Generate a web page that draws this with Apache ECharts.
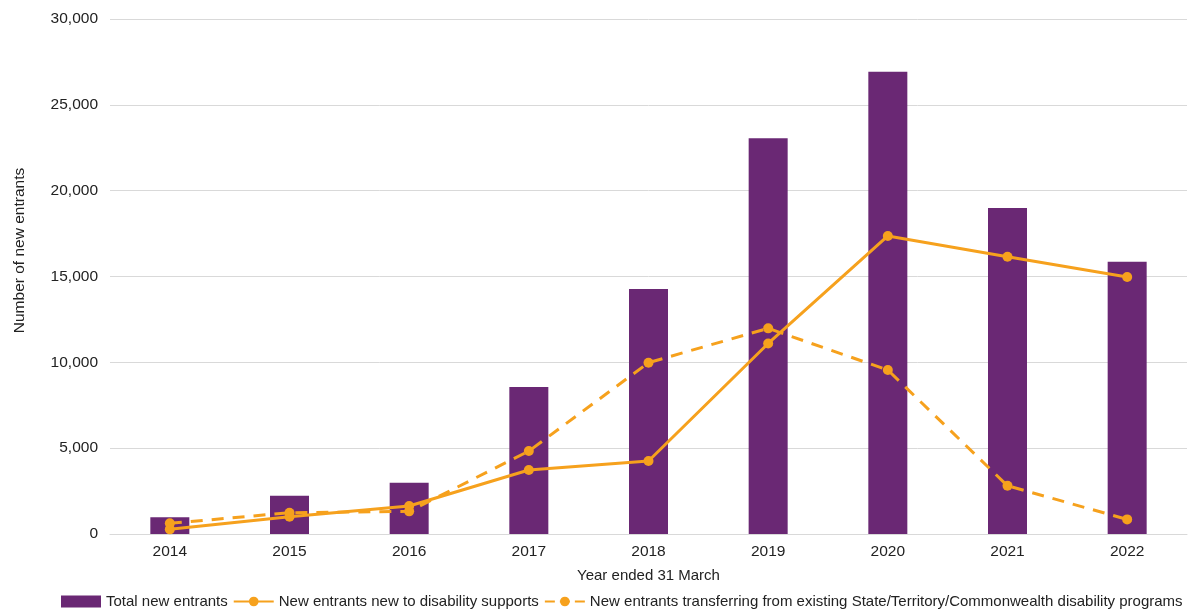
<!DOCTYPE html>
<html>
<head>
<meta charset="utf-8">
<script src="https://cdn.jsdelivr.net/npm/echarts@6/dist/echarts.min.js"></script>
<style>
  html, body { margin: 0; padding: 0; background: #fff; }
  #mainChart { width: 1189px; height: 615px; }
</style>
</head>
<body>
<div id="mainChart"></div>
<script>
// data
var years = ['2014', '2015', '2016', '2017', '2018', '2019', '2020', '2021', '2022'];
var totalNew = [970, 2230, 2990, 8560, 14270, 23060, 26930, 18990, 15860];
var newToSupports = [270, 1000, 1630, 3730, 4250, 11100, 17360, 16150, 14970];
var transferring = [620, 1240, 1320, 4830, 9980, 11980, 9550, 2810, 850];

var purple = '#6a2874';
var orange = '#f6a11d';
var font = 'Liberation Sans, Arial, sans-serif';

var myChart = echarts.init(document.getElementById('mainChart'));

var option = {
  animation: false,
  textStyle: { fontFamily: font },
  grid: { left: 110, right: 2, top: 19, bottom: 81 },
  legend: {
    bottom: 1,
    left: 56,
    itemGap: 5,
    itemWidth: 40,
    itemHeight: 12,
    textStyle: { fontSize: 15, color: '#222', fontFamily: font },
    data: [
      { name: 'Total new entrants', icon: 'rect' },
      'New entrants new to disability supports',
      {
        name: 'New entrants transferring from existing State/Territory/Commonwealth disability programs',
        lineStyle: { type: [10, 5] }
      }
    ]
  },
  xAxis: {
    type: 'category',
    data: years,
    name: 'Year ended 31 March',
    nameLocation: 'middle',
    nameGap: 34,
    nameTextStyle: { fontSize: 15, color: '#222' },
    axisLine: { lineStyle: { color: '#d9d9d9', width: 1 } },
    axisTick: { show: false },
    axisLabel: { fontSize: 15.5, color: '#222', margin: 10 }
  },
  yAxis: {
    type: 'value',
    min: 0,
    max: 30000,
    interval: 5000,
    name: 'Number of new entrants',
    nameLocation: 'middle',
    nameGap: 82,
    nameTextStyle: { fontSize: 15.5, color: '#222', padding: [0, 0, 0, 52] },
    axisLine: { show: false },
    axisTick: { show: false },
    splitLine: { lineStyle: { color: '#d9d9d9', width: 1 } },
    axisLabel: {
      fontSize: 15.5,
      color: '#222',
      margin: 12,
      formatter: function (v) { return v.toLocaleString('en-US'); }
    }
  },
  series: [
    {
      name: 'Total new entrants',
      type: 'bar',
      data: totalNew,
      barWidth: 39,
      itemStyle: { color: purple },
      z: 1
    },
    {
      name: 'New entrants new to disability supports',
      type: 'line',
      data: newToSupports,
      symbol: 'circle',
      symbolSize: 10,
      lineStyle: { color: orange, width: 3 },
      itemStyle: { color: orange },
      z: 3
    },
    {
      name: 'New entrants transferring from existing State/Territory/Commonwealth disability programs',
      type: 'line',
      data: transferring,
      symbol: 'circle',
      symbolSize: 10,
      lineStyle: { color: orange, width: 3, type: [12, 9] },
      itemStyle: { color: orange },
      z: 2
    }
  ]
};

myChart.setOption(option);
</script>
</body>
</html>
